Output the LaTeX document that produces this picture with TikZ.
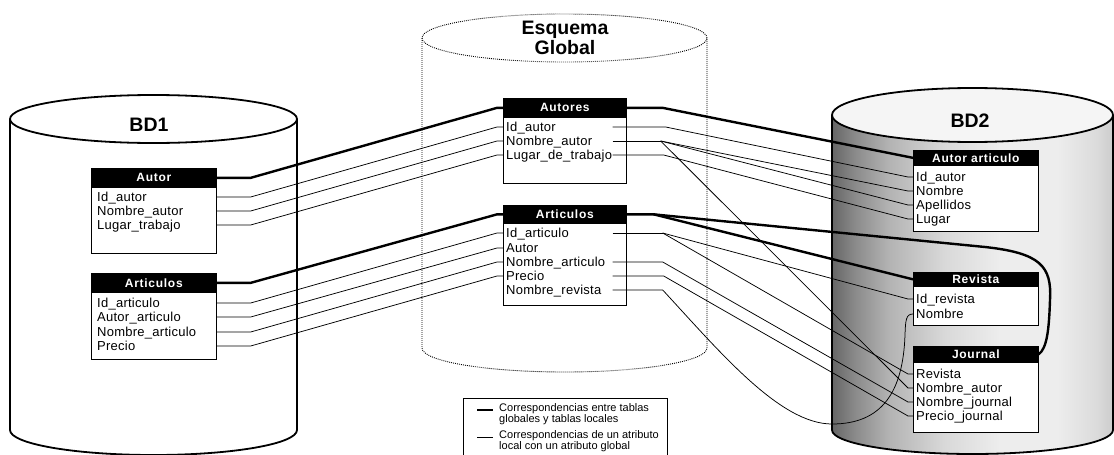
\documentclass[tikz,border=0pt]{standalone}
\usepackage{fontspec}
\setmainfont{Liberation Sans}
\usetikzlibrary{calc}

% dithered grey body of the second database
\pgfdeclarehorizontalshading{bdtwoshade}{100bp}{%
  color(0bp)=(black!60); color(25bp)=(black!60); color(29bp)=(black!46);
  color(35bp)=(black!30); color(45bp)=(black!15); color(55bp)=(black!7);
  color(65bp)=(black!7); color(72bp)=(black!14); color(75bp)=(black!20);
  color(100bp)=(black!20)}

\begin{document}
\begin{tikzpicture}[x=1pt,y=-1pt,
  cylline/.style={line width=1.8pt, line join=round},
  dotln/.style={line width=0.9pt, dash pattern=on 0.9pt off 1.1pt},
  tblbox/.style={draw=black, line width=0.7pt, fill=white, minimum width=125pt,
    inner sep=0pt, anchor=north west},
  tblhead/.style={draw=black, line width=0.7pt, fill=black, text=white,
    font=\bfseries\fontsize{12}{12}\selectfont\addfontfeature{LetterSpace=6},
    minimum width=125pt, inner sep=0pt, anchor=north west},
  rowtxt/.style={font=\fontsize{13}{13}\selectfont\addfontfeature{LetterSpace=2},
    anchor=west, inner sep=0pt, text height=9pt, text depth=0pt},
  dblabel/.style={font=\bfseries\fontsize{19.5}{20}\selectfont, align=center},
  thickln/.style={line width=2.4pt, line join=round, line cap=round},
  thinln/.style={line width=0.75pt, line join=round},
  legtxt/.style={font=\fontsize{11}{11}\selectfont, align=left, anchor=west, inner sep=0pt}]

\useasboundingbox (0,0) rectangle (1114,455);

% ---------- BD1 cylinder ----------
\draw[cylline, fill=white] (10,119) -- (10,430)
  arc[start angle=180, end angle=360, x radius=143.5pt, y radius=25pt] -- (297,119);
\draw[cylline, fill=white] (153.5,119) ellipse[x radius=143.5pt, y radius=24pt];
\node[dblabel] (bd1) at (149,125) {BD1};

% ---------- global schema (dotted cylinder) ----------
\draw[dotln] (422,38) -- (422,348)
  arc[start angle=180, end angle=360, x radius=142.5pt, y radius=24pt] -- (707,38);
\draw[dotln] (564.5,38) ellipse[x radius=142.5pt, y radius=24pt];
\node[dblabel] (esq) at (565,38) {Esquema\\Global};

% ---------- BD2 cylinder ----------
\shade[shading=bdtwoshade] (832,115) -- (832,430)
  arc[start angle=180, end angle=360, x radius=140.5pt, y radius=24pt] -- (1113,115) -- cycle;
\draw[cylline] (832,115) -- (832,430)
  arc[start angle=180, end angle=360, x radius=140.5pt, y radius=24pt] -- (1113,115);
\draw[cylline, fill=black!4] (972.5,115) ellipse[x radius=140.5pt, y radius=27pt];
\node[dblabel] (bd2) at (970,121) {BD2};

% ---------- BD1 tables ----------
\node[tblbox, minimum height=85pt] (a1box) at (91,168) {};
\node[tblhead, minimum height=19pt] (a1h) at (91,168) {Autor};
\node[rowtxt] (a1r1) at (97,197) {Id\_autor};
\node[rowtxt] (a1r2) at (97,211) {Nombre\_autor};
\node[rowtxt] (a1r3) at (97,225) {Lugar\_trabajo};

\node[tblbox, minimum height=86pt] (a2box) at (91,273) {};
\node[tblhead, minimum height=19pt] (a2h) at (91,273) {Articulos};
\node[rowtxt] (a2r1) at (97,303) {Id\_articulo};
\node[rowtxt] (a2r2) at (97,317) {Autor\_articulo};
\node[rowtxt] (a2r3) at (97,332) {Nombre\_articulo};
\node[rowtxt] (a2r4) at (97,346) {Precio};

% ---------- global tables ----------
\node[tblbox, minimum width=123pt, minimum height=85pt] (g1box) at (503,98) {};
\node[tblhead, minimum width=123pt, minimum height=19pt] (g1h) at (503,98) {Autores};
\node[rowtxt] (g1r1) at (506,127) {Id\_autor};
\node[rowtxt] (g1r2) at (506,141) {Nombre\_autor};
\node[rowtxt] (g1r3) at (506,155) {Lugar\_de\_trabajo};

\node[tblbox, minimum width=123pt, minimum height=100pt] (g2box) at (503,205) {};
\node[tblhead, minimum width=123pt, minimum height=18pt] (g2h) at (503,205) {Articulos};
\node[rowtxt] (g2r1) at (506,233) {Id\_articulo};
\node[rowtxt] (g2r2) at (506,248) {Autor};
\node[rowtxt] (g2r3) at (506,262) {Nombre\_articulo};
\node[rowtxt] (g2r4) at (506,276) {Precio};
\node[rowtxt] (g2r5) at (506,290) {Nombre\_revista};

% ---------- BD2 tables ----------
\node[tblbox, minimum height=81pt] (b1box) at (913,150) {};
\node[tblhead, minimum height=15pt] (b1h) at (913,150) {Autor articulo};
\node[rowtxt] (b1r1) at (916,177) {Id\_autor};
\node[rowtxt] (b1r2) at (916,191) {Nombre};
\node[rowtxt] (b1r3) at (916,205) {Apellidos};
\node[rowtxt] (b1r4) at (916,219) {Lugar};

\node[tblbox, minimum height=53pt] (b2box) at (913,272) {};
\node[tblhead, minimum height=14pt] (b2h) at (913,272) {Revista};
\node[rowtxt] (b2r1) at (916,299) {Id\_revista};
\node[rowtxt] (b2r2) at (916,314) {Nombre};

\node[tblbox, minimum height=86pt] (b3box) at (913,346) {};
\node[tblhead, minimum height=16pt] (b3h) at (913,346) {Journal};
\node[rowtxt] (b3r1) at (916,374) {Revista};
\node[rowtxt] (b3r2) at (916,388) {Nombre\_autor};
\node[rowtxt] (b3r3) at (916,402) {Nombre\_journal};
\node[rowtxt] (b3r4) at (916,416) {Precio\_journal};

% ---------- BD1 -> global ----------
\draw[thickln] (a1h.east) -- ++(34,0) -- ($(g1h.west)+(-6,0)$) -- (g1h.west);
\foreach \s/\t in {a1r1/g1r1, a1r2/g1r2, a1r3/g1r3}
  \draw[thinln] (\s -| a1box.east) -- ++(34,0) -- ($(\t -| g1box.west)+(-6,0)$) -- (\t -| g1box.west);
\draw[thickln] (a2h.east) -- ++(34,0) -- ($(g2h.west)+(-6,0)$) -- (g2h.west);
\foreach \s/\t in {a2r1/g2r1, a2r2/g2r2, a2r3/g2r3, a2r4/g2r4}
  \draw[thinln] (\s -| a2box.east) -- ++(34,0) -- ($(\t -| g2box.west)+(-6,0)$) -- (\t -| g2box.west);

% ---------- Autores -> BD2 ----------
\draw[thickln] (g1h.east) -- ++(36,0) -- (b1h.west);
\coordinate (kId) at ($(g1r1 -| g1box.east)+(39,0)$);
\coordinate (kNom) at ($(g1r2 -| g1box.east)+(34,0)$);
\coordinate (kLug) at ($(g1r3 -| g1box.east)+(37,0)$);
\draw[thinln] ($(g1r1 -| g1box.east)+(-14,0)$) -- (kId) -- ($(b1r1 -| b1box.west)+(-5,0)$) -- (b1r1 -| b1box.west);
\draw[thinln] ($(g1r2 -| g1box.east)+(-14,0)$) -- (kNom);
\draw[thinln] (kNom) -- ($(b1r2 -| b1box.west)+(-5,0)$) -- (b1r2 -| b1box.west);
\draw[thinln] (kNom) -- ($(b1r3 -| b1box.west)+(-5,0)$) -- (b1r3 -| b1box.west);
\draw[thinln] (kNom) -- ($(b3r2 -| b3box.west)+(-5,0)$) -- (b3r2 -| b3box.west);
\draw[thinln] ($(g1r3 -| g1box.east)+(-14,0)$) -- (kLug) -- ($(b1r4 -| b1box.west)+(-5,0)$) -- (b1r4 -| b1box.west);

% ---------- Articulos -> BD2 ----------
\coordinate (kHead) at ($(g2h.east)+(27,0)$);
\draw[thickln] (g2h.east) -- (kHead) -- (b2h.west);
\draw[thickln] (kHead) -- (985,247) .. controls (1040,253) and (1052,266) .. (1050,300)
  .. controls (1049,330) and (1047,348) .. (b3h.east);
\coordinate (kArt) at ($(g2r1 -| g2box.east)+(36,0)$);
\coordinate (kNart) at ($(g2r3 -| g2box.east)+(36,0)$);
\coordinate (kPre) at ($(g2r4 -| g2box.east)+(37,0)$);
\coordinate (kRev) at ($(g2r5 -| g2box.east)+(36,0)$);
\draw[thinln] ($(g2r1 -| g2box.east)+(-14,0)$) -- (kArt);
\draw[thinln] (kArt) -- ($(b2r1 -| b2box.west)+(-5,0)$) -- (b2r1 -| b2box.west);
\draw[thinln] (kArt) -- ($(b3r1 -| b3box.west)+(-5,0)$) -- (b3r1 -| b3box.west);
\draw[thinln] ($(g2r3 -| g2box.east)+(-14,0)$) -- (kNart) -- ($(b3r3 -| b3box.west)+(-5,0)$) -- (b3r3 -| b3box.west);
\draw[thinln] ($(g2r4 -| g2box.east)+(-14,0)$) -- (kPre) -- ($(b3r4 -| b3box.west)+(-5,0)$) -- (b3r4 -| b3box.west);
\draw[thinln] ($(g2r5 -| g2box.east)+(-14,0)$) -- (kRev)
  .. controls (720,352) and (780,424) .. (832,424)
  .. controls (882,424) and (903,392) .. (905,335)
  .. controls (905.5,320) and (906,314) .. (b2r2 -| b2box.west);

% ---------- legend ----------
\draw[line width=0.7pt] (463,458) -- (463,398) -- (667,398) -- (667,458);
\coordinate (lgA) at (477,410); \coordinate (lgB) at (493,410);
\coordinate (lgC) at (477,437); \coordinate (lgD) at (493,437);
\draw[line width=2pt] (lgA) -- (lgB);
\draw[thinln] (lgC) -- (lgD);
\node[legtxt] (lg1) at (499,414) {Correspondencias entre tablas\\globales y tablas locales};
\node[legtxt] (lg2) at (499,441) {Correspondencias de un atributo\\local con un atributo global};

\end{tikzpicture}
\end{document}
